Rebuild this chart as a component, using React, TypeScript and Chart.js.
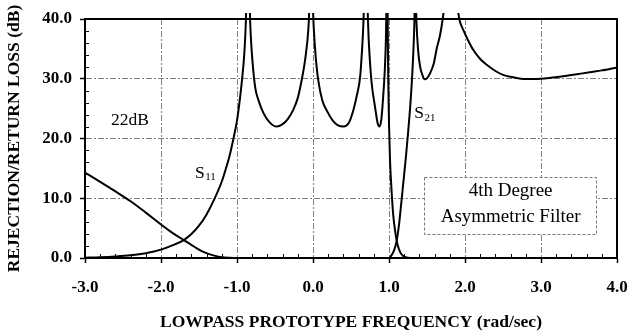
import { useEffect, useRef } from 'react';
import { Chart, registerables } from 'chart.js';

Chart.register(...registerables);

const FONT = '"Liberation Serif", "Times New Roman", serif';

// ---- axis ticks ----
const xTickLabels = ['-3.0', '-2.0', '-1.0', '0.0', '1.0', '2.0', '3.0', '4.0'];
const yTickLabels = ['0.0', '10.0', '20.0', '30.0', '40.0'];

// ---- S11 (return loss, dB) ----
const s11Freq = [
  -3.0, -2.8, -2.6, -2.4, -2.2, -2.0, -1.85, -1.7, -1.6, -1.5, -1.4, -1.3, -1.2, -1.15, -1.1, -1.05,
  -1.0, -0.96, -0.93, -0.905, -0.89, -0.855, -0.82, -0.8, -0.76, -0.72, -0.65, -0.57, -0.48, -0.4,
  -0.33, -0.26, -0.2, -0.15, -0.1, -0.06, -0.025, 0.01, 0.04, 0.07, 0.12, 0.18, 0.26, 0.33, 0.4,
  0.47, 0.53, 0.58, 0.62, 0.655, 0.695, 0.735, 0.77, 0.816, 0.85, 0.875, 0.9, 0.925, 0.945, 0.96,
  0.975, 0.99, 1.0, 1.013, 1.035, 1.057, 1.08, 1.1, 1.12, 1.15, 1.19, 1.25, 1.4, 4.0,
];
const s11Loss = [
  0.05, 0.12, 0.25, 0.45, 0.8, 1.4, 2.1, 3.0, 4.0, 5.4, 7.3, 9.8, 12.8, 14.8, 17.0, 19.8,
  23.0, 26.8, 30.3, 34.0, 37.5, 48, 37.5, 33.5, 28.5, 26.5, 24.2, 22.7, 22.0, 22.4,
  23.3, 24.8, 26.8, 29.7, 33.5, 38.5, 48, 38.5, 33.0, 29.7, 26.5, 24.7, 23.0, 22.2, 22.0,
  22.6, 24.7, 27.4, 30.3, 37.0, 48, 36.0, 29.5, 25.3, 22.6, 22.0, 23.3, 27.3, 31.5, 37.0,
  48, 30.0, 22.5, 16.5, 11.0, 7.0, 4.6, 3.0, 1.9, 0.9, 0.3, 0.05, 0, 0,
];

// ---- S21 (rejection, dB) ----
const s21Freq = [
  -3.0, -2.8, -2.6, -2.4, -2.2, -2.0, -1.85, -1.7, -1.6, -1.5, -1.42, -1.3, -1.2, -1.1, -1.0,
  1.0, 1.04, 1.07, 1.1, 1.13, 1.16, 1.19, 1.22, 1.25, 1.28, 1.305, 1.322, 1.335, 1.345, 1.36, 1.385,
  1.41, 1.44, 1.47, 1.5, 1.54, 1.59, 1.63, 1.67, 1.71, 1.75, 1.8, 1.86, 1.925, 1.98, 2.05, 2.11, 2.2,
  2.29, 2.4, 2.51, 2.65, 2.77, 2.9, 3.0, 3.15, 3.29, 3.45, 3.64, 3.8, 4.0,
];
const s21Loss = [
  14.3, 12.75, 11.15, 9.5, 7.6, 5.6, 4.2, 3.0, 2.2, 1.4, 0.9, 0.4, 0.12, 0.03, 0,
  0, 0.6, 1.4, 2.8, 5.4, 9.0, 12.8, 16.6, 20.8, 25.5, 30.5, 35.0, 40.0, 48, 40.0, 34.5,
  32.0, 30.6, 29.9, 30.1, 30.9, 32.6, 35.2, 37.2, 40.3, 45, 50, 46, 40.0, 38.1, 36.2, 34.8, 33.3,
  32.3, 31.3, 30.6, 30.2, 29.95, 29.95, 30.0, 30.2, 30.4, 30.7, 31.1, 31.4, 31.9,
];

// ---- annotations (data coordinates) ----
const rippleLabel = { text: '22dB', x: -2.41, y: 22.2 };
const s11Label = { main: 'S', sub: '11', x: -1.553, y: 13.4 };
const s21Label = { main: 'S', sub: '21', x: 1.333, y: 23.4 };
const boxLines = ['4th Degree', 'Asymmetric Filter'];
const boxRange = { x0: 1.465, x1: 3.733, y0: 3.97, y1: 13.5 };
const boxTextX = 2.6;
const boxTextY = [10.43, 6.08];

const toPoints = (xs: number[], ys: number[]) => xs.map((x, i) => ({ x, y: ys[i] }));

const decorPlugin = {
  id: 'decor',
  beforeDatasetsDraw(chart: any) {
    const { ctx, chartArea: a, scales } = chart;
    const xs = scales.x;
    const ys = scales.y;
    ctx.save();
    ctx.strokeStyle = '#000';
    ctx.lineWidth = 2;
    ctx.strokeRect(a.left, a.top, a.right - a.left, a.bottom - a.top);
    ctx.lineWidth = 1;
    ctx.beginPath();
    for (let i = 1; i < 35; i++) {
      if (i % 5 === 0) continue;
      const px = Math.round(xs.getPixelForValue(-3 + i * 0.2)) + 0.5;
      ctx.moveTo(px, a.bottom);
      ctx.lineTo(px, a.bottom - 4);
    }
    for (let i = 1; i < 20; i++) {
      if (i % 5 === 0) continue;
      const py = Math.round(ys.getPixelForValue(i * 2)) + 0.5;
      ctx.moveTo(a.left, py);
      ctx.lineTo(a.left + 4, py);
    }
    ctx.stroke();
    ctx.restore();
  },
  afterDatasetsDraw(chart: any) {
    const { ctx, scales } = chart;
    const xs = scales.x;
    const ys = scales.y;
    ctx.save();
    ctx.fillStyle = '#000';
    ctx.textBaseline = 'alphabetic';

    ctx.font = `17.5px ${FONT}`;
    ctx.textAlign = 'center';
    ctx.fillText(rippleLabel.text, xs.getPixelForValue(rippleLabel.x), ys.getPixelForValue(rippleLabel.y));

    const drawSub = (l: any) => {
      const px = xs.getPixelForValue(l.x);
      const py = ys.getPixelForValue(l.y);
      ctx.textAlign = 'left';
      ctx.font = `17.5px ${FONT}`;
      ctx.fillText(l.main, px, py);
      const w = ctx.measureText(l.main).width;
      ctx.font = `11px ${FONT}`;
      ctx.fillText(l.sub, px + w + 0.5, py + 2.5);
    };
    drawSub(s11Label);
    drawSub(s21Label);

    // text box
    const bx0 = xs.getPixelForValue(boxRange.x0);
    const bx1 = xs.getPixelForValue(boxRange.x1);
    const by0 = ys.getPixelForValue(boxRange.y1);
    const by1 = ys.getPixelForValue(boxRange.y0);
    ctx.fillStyle = '#fff';
    ctx.fillRect(bx0, by0, bx1 - bx0, by1 - by0);
    ctx.strokeStyle = '#777';
    ctx.lineWidth = 1;
    ctx.setLineDash([3, 2]);
    ctx.strokeRect(Math.round(bx0) + 0.5, Math.round(by0) + 0.5, Math.round(bx1 - bx0), Math.round(by1 - by0));
    ctx.setLineDash([]);
    ctx.fillStyle = '#000';
    ctx.font = `19px ${FONT}`;
    ctx.textAlign = 'center';
    boxLines.forEach((t, i) => {
      ctx.fillText(t, xs.getPixelForValue(boxTextX), ys.getPixelForValue(boxTextY[i]));
    });
    ctx.restore();
  },
};

export default function App() {
  const ref = useRef<HTMLCanvasElement>(null);
  useEffect(() => {
    document.body.style.margin = '0';
    const canvas = ref.current;
    if (!canvas) return;
    const lineStyle = {
      borderColor: '#000',
      borderWidth: 2,
      pointRadius: 0,
      fill: false,
      cubicInterpolationMode: 'monotone' as const,
      clip: { left: 0, top: 6, right: 0, bottom: 2 },
    };
    const chart = new Chart(canvas, {
      type: 'line',
      data: {
        datasets: [
          { label: 'S11', data: toPoints(s11Freq, s11Loss), ...lineStyle },
          { label: 'S21', data: toPoints(s21Freq, s21Loss), ...lineStyle },
        ],
      },
      options: {
        responsive: false,
        animation: false,
        events: [],
        layout: { padding: { top: 19, right: 11, left: 0, bottom: 0 } },
        plugins: { legend: { display: false }, tooltip: { enabled: false } },
        scales: {
          x: {
            type: 'linear',
            min: -3,
            max: 4,
            afterFit: (s: any) => {
              s.height = 78;
              s.paddingLeft = 0;
              s.paddingRight = 0;
            },
            ticks: {
              stepSize: 1,
              maxRotation: 0,
              autoSkip: false,
              padding: 14,
              color: '#000',
              font: { family: FONT, size: 17, weight: 'bold' },
              callback: (_v: any, i: number) => xTickLabels[i],
            },
            grid: { color: '#808080', lineWidth: 1, tickLength: 5, tickColor: '#000', tickWidth: 1.5 },
            border: { display: true, color: '#000', width: 2, dash: [6, 2, 2, 2] },
            title: {
              display: true,
              text: 'LOWPASS PROTOTYPE FREQUENCY (rad/sec)',
              color: '#000',
              font: { family: FONT, size: 17.5, weight: 'bold' },
              padding: { top: 0, bottom: 3 },
            },
          },
          y: {
            type: 'linear',
            min: 0,
            max: 40,
            afterFit: (s: any) => {
              s.width = 85;
              s.paddingTop = 0;
              s.paddingBottom = 0;
            },
            ticks: {
              stepSize: 10,
              padding: 8,
              color: '#000',
              font: { family: FONT, size: 17, weight: 'bold' },
              callback: (_v: any, i: number) => yTickLabels[i],
            },
            grid: { color: '#808080', lineWidth: 1, tickLength: 5, tickColor: '#000', tickWidth: 1.5 },
            border: { display: true, color: '#000', width: 2, dash: [6, 2, 2, 2] },
            title: {
              display: true,
              text: 'REJECTION/RETURN LOSS (dB)',
              color: '#000',
              font: { family: FONT, size: 17.5, weight: 'bold' },
              padding: { top: 4, bottom: 0 },
            },
          },
        },
      },
      plugins: [decorPlugin],
    });
    return () => chart.destroy();
  }, []);
  return (
    <div style={{ position: 'absolute', left: 0, top: 0, width: 628, height: 336, background: '#fff' }}>
      <canvas ref={ref} width={628} height={336} style={{ display: 'block', width: 628, height: 336 }} />
    </div>
  );
}
